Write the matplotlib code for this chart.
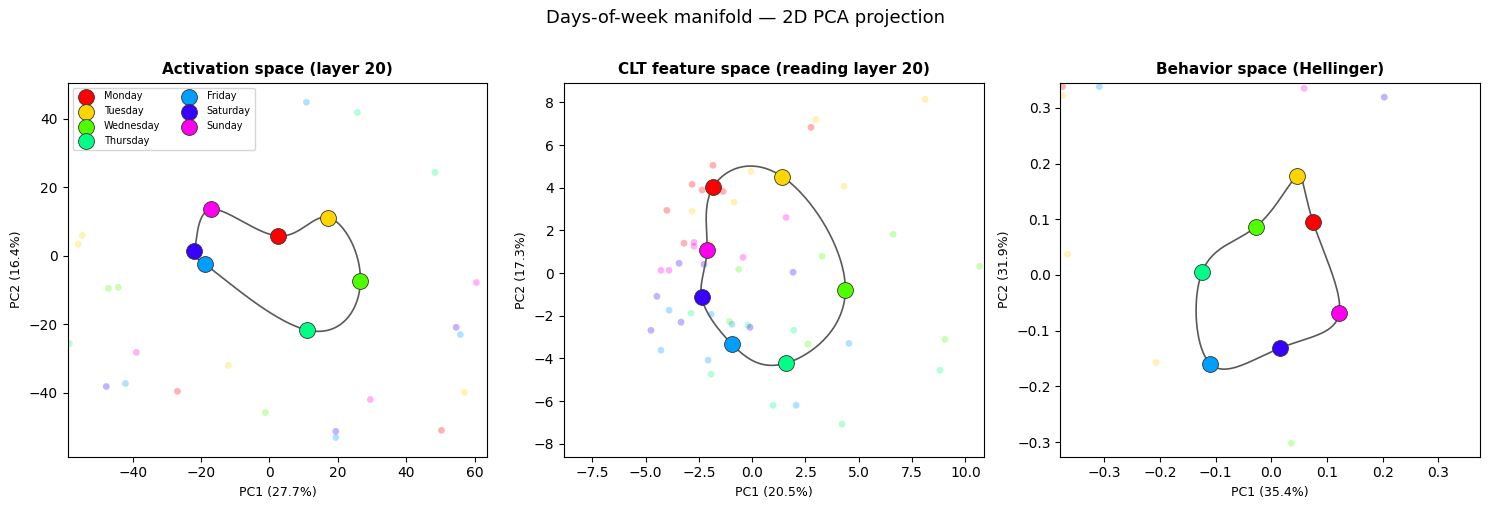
import numpy as np
import matplotlib
matplotlib.use('Agg')
from matplotlib import pyplot as plt

days = ['Monday', 'Tuesday', 'Wednesday', 'Thursday', 'Friday', 'Saturday', 'Sunday']

# day centroids per space (PC1, PC2)
act_x = [2.6, 17.2, 26.6, 11.1, -18.7, -22.0, -17.0]
act_y = [5.8, 11.2, -7.4, -21.7, -2.5, 1.3, 13.6]
clt_x = [-1.84, 1.41, 4.37, 1.59, -0.95, -2.37, -2.12]
clt_y = [4.02, 4.52, -0.80, -4.22, -3.33, -1.13, 1.07]
beh_x = [0.075, 0.046, -0.027, -0.124, -0.110, 0.016, 0.122]
beh_y = [0.095, 0.177, 0.087, 0.006, -0.159, -0.131, -0.069]

# individual prompts: (day index, PC1, PC2)
act_pts = [
    (0, -26.9, -39.6), (0, 50.3, -51.0),
    (1, -54.7, 6.0), (1, -55.9, 3.4), (1, -12.0, -32.0), (1, 57.0, -39.9),
    (2, -47.1, -9.5), (2, -44.2, -9.2), (2, -1.2, -45.8),
    (3, 25.7, 41.9), (3, 48.4, 24.4), (3, -58.5, -25.6),
    (4, 10.8, 44.9), (4, 55.8, -23.0), (4, -42.1, -37.3), (4, 19.4, -53.1),
    (5, 54.6, -20.9), (5, -47.7, -38.2), (5, 19.4, -51.3),
    (6, 60.5, -7.8), (6, -38.9, -28.2), (6, 29.5, -42.0),
]
clt_pts = [
    (0, 2.76, 6.83), (0, -1.84, 5.05), (0, -2.82, 4.16), (0, -2.35, 3.89),
    (0, -1.37, 3.83), (0, -4.0, 2.94), (0, -3.2, 1.40),
    (1, 8.11, 8.14), (1, 2.99, 7.20), (1, -0.06, 4.77), (1, 4.31, 4.07),
    (1, -0.85, 3.32), (1, -2.82, 2.90), (1, -2.0, 1.40),
    (2, 6.61, 1.82), (2, 3.28, 0.79), (2, -0.63, 0.18), (2, 10.67, 0.32),
    (2, -1.06, -2.26), (2, 2.62, -3.33), (2, 9.04, -3.10),
    (3, -2.87, -1.88), (3, -0.20, -2.44), (3, 1.95, -2.68), (3, -1.93, -4.74),
    (3, 8.81, -4.55), (3, 0.98, -6.19), (3, 4.21, -7.08),
    (4, -3.90, -1.74), (4, -1.93, -1.93), (4, -0.95, -2.40), (4, 4.54, -3.29),
    (4, -4.28, -3.61), (4, -2.07, -4.08), (4, 2.06, -6.19),
    (5, -3.43, 0.46), (5, -2.26, 0.41), (5, 1.92, 0.04), (5, -4.47, -1.09),
    (5, -0.10, -2.54), (5, -3.34, -2.30), (5, -4.75, -2.68),
    (6, 1.59, 2.61), (6, -2.73, 1.44), (6, -2.73, 1.26), (6, -0.43, 0.74),
    (6, -4.28, 0.13), (6, -3.90, 0.13),
]
beh_pts = [
    (0, -0.375, 0.338),
    (1, -0.375, 0.322), (1, -0.366, 0.037), (1, -0.207, -0.157),
    (2, 0.036, -0.302),
    (4, -0.309, 0.338),
    (5, 0.203, 0.319),
    (6, -0.167, 0.349), (6, 0.059, 0.335),
]

panels = [
    ('Activation space (layer 20)', act_x, act_y, act_pts,
     'PC1 (27.7%)', 'PC2 (16.4%)', (-59.0, 63.7), (-58.7, 50.6)),
    ('CLT feature space (reading layer 20)', clt_x, clt_y, clt_pts,
     'PC1 (20.5%)', 'PC2 (17.3%)', (-8.83, 10.86), (-8.6, 8.92)),
    ('Behavior space (Hellinger)', beh_x, beh_y, beh_pts,
     'PC1 (35.4%)', 'PC2 (31.9%)', (-0.379, 0.375), (-0.326, 0.345)),
]

colors = plt.cm.hsv(np.linspace(0, 1, len(days), endpoint=False))


def closed_spline(x, y, npts=400):
    # periodic cubic spline through the centroids, one unit of parameter per day
    n = len(x)
    h = 1.0
    A = np.zeros((n, n))
    for i in range(n):
        A[i, (i - 1) % n] += h
        A[i, i] += 4 * h
        A[i, (i + 1) % n] += h
    tt = np.linspace(0, n, npts)
    out = []
    for v in (np.asarray(x), np.asarray(y)):
        rhs = np.array([6 * (v[(i + 1) % n] - 2 * v[i] + v[(i - 1) % n]) for i in range(n)])
        M = np.linalg.solve(A, rhs)
        res = np.empty_like(tt)
        for k, tv in enumerate(tt):
            i = min(int(tv), n - 1)
            j = (i + 1) % n
            b = tv - i
            a = 1 - b
            res[k] = (M[i] * a ** 3 + M[j] * b ** 3) / 6 \
                + (v[i] - M[i] / 6) * a + (v[j] - M[j] / 6) * b
        out.append(res)
    return out


fig, axes = plt.subplots(1, 3, figsize=(14.9, 5.09), dpi=100)
fig.subplots_adjust(left=0.0454, right=0.9933, top=0.8375, bottom=0.1028, wspace=0.1827)

for ax, (title, cx, cy, pts, xl, yl, xlim, ylim) in zip(axes, panels):
    for d, px, py in pts:
        ax.scatter(px, py, s=24, color=colors[d], alpha=0.3, edgecolors='none', zorder=1)
    sx, sy = closed_spline(cx, cy)
    ax.plot(sx, sy, color='0.35', linewidth=1.2, zorder=2)
    for i, day in enumerate(days):
        ax.scatter(cx[i], cy[i], s=130, color=colors[i], edgecolors='0.2',
                   linewidths=0.6, zorder=3, label=day)
    ax.set_xlim(*xlim)
    ax.set_ylim(*ylim)
    ax.set_title(title, fontsize=11, fontweight='bold')
    ax.set_xlabel(xl, fontsize=9)
    ax.set_ylabel(yl, fontsize=9)

axes[0].legend(loc='upper left', ncol=2, fontsize=7)
fig.suptitle('Days-of-week manifold — 2D PCA projection', fontsize=13, y=0.965, va='center')

fig.savefig('out.png', dpi=100)
